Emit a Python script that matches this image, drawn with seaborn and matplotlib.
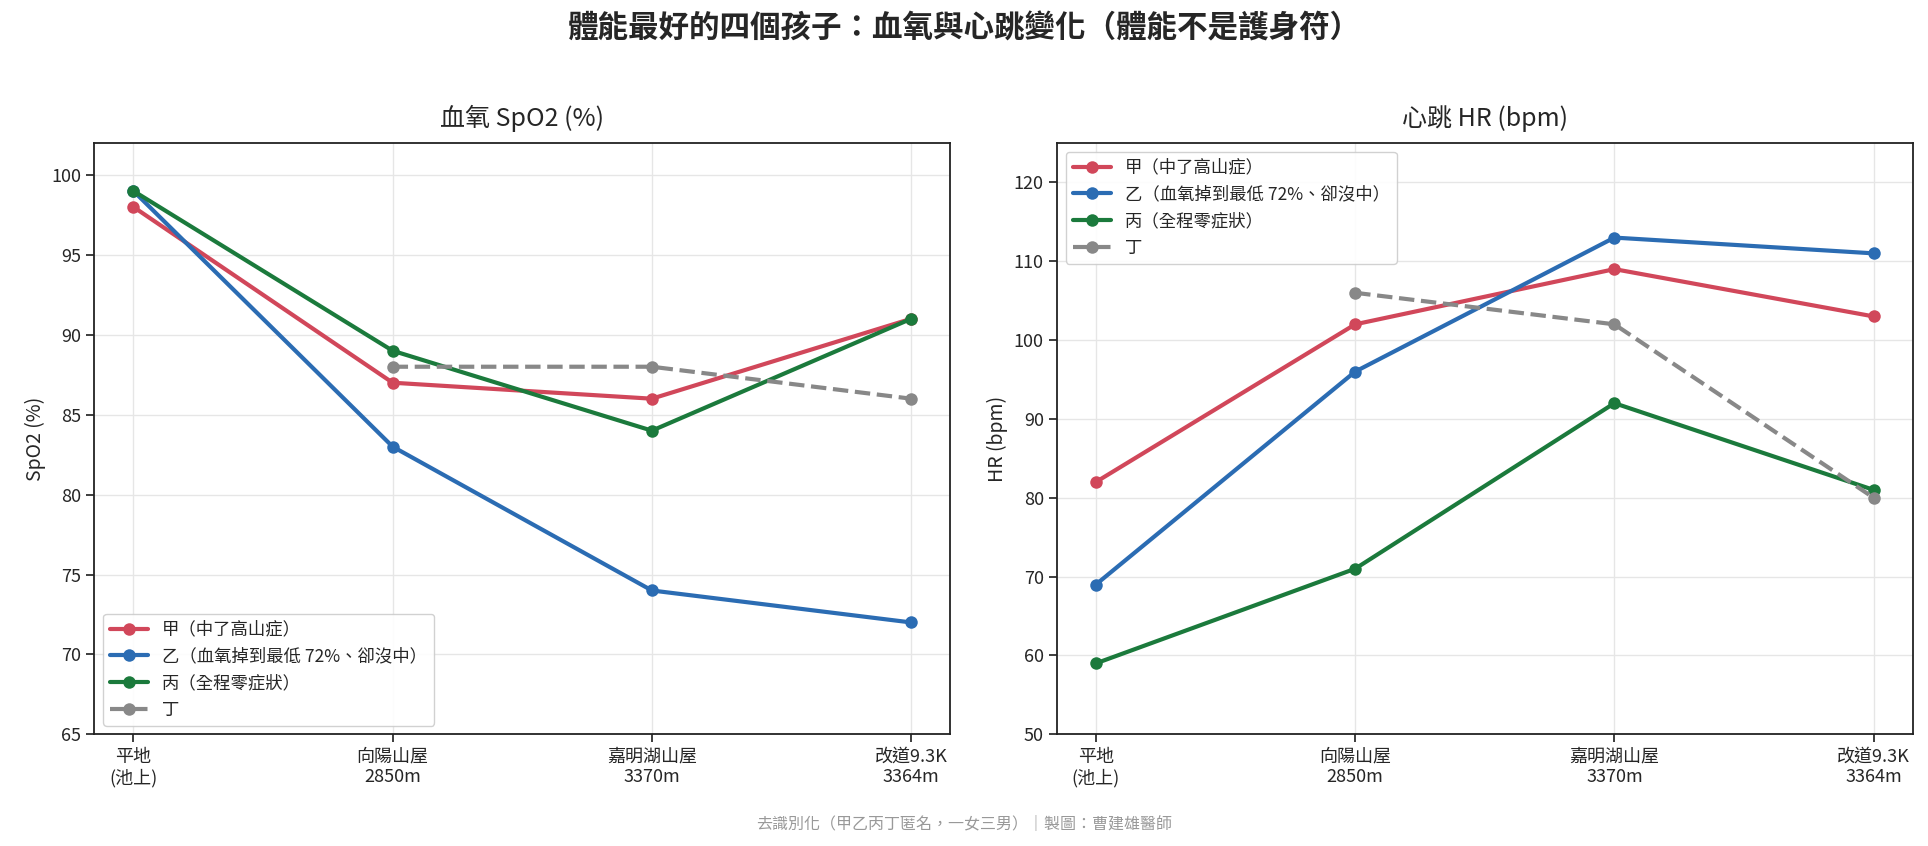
import numpy as np
import pandas as pd
import seaborn as sns
import matplotlib.pyplot as plt

stops = ['平地\n(池上)', '向陽山屋\n2850m', '嘉明湖山屋\n3370m', '改道9.3K\n3364m']
kids = ['甲（中了高山症）', '乙（血氧掉到最低 72%、卻沒中）', '丙（全程零症狀）', '丁']

spo2_jia = [98, 87, 86, 91]
spo2_yi = [99, 83, 74, 72]
spo2_bing = [99, 89, 84, 91]
spo2_ding = [np.nan, 88, 88, 86]

hr_jia = [82, 102, 109, 103]
hr_yi = [69, 96, 113, 111]
hr_bing = [59, 71, 92, 81]
hr_ding = [np.nan, 106, 102, 80]

colors = ['#d1475a', '#2b6cb3', '#1b7a3c', '#888888']

sns.set_theme(style="whitegrid")
plt.rcParams['font.family'] = ['Noto Sans CJK TC', 'DejaVu Sans']
plt.rcParams['axes.edgecolor'] = '#222222'
plt.rcParams['grid.color'] = '#e6e6e6'
plt.rcParams['xtick.bottom'] = True
plt.rcParams['ytick.left'] = True

def make_df(series):
    rows = []
    for kid, vals in zip(kids, series):
        for i, v in enumerate(vals):
            rows.append({'stop': i, 'kid': kid, 'val': v})
    return pd.DataFrame(rows)

spo2 = make_df([spo2_jia, spo2_yi, spo2_bing, spo2_ding])
hr = make_df([hr_jia, hr_yi, hr_bing, hr_ding])

fig, axes = plt.subplots(1, 2, figsize=(19.28, 8.46), dpi=100)
fig.subplots_adjust(left=0.049, right=0.992, top=0.831, bottom=0.132, wspace=0.125)

panels = [(axes[0], spo2, '血氧 SpO2 (%)', 'SpO2 (%)', (65, 102), 'lower left'),
          (axes[1], hr, '心跳 HR (bpm)', 'HR (bpm)', (50, 125), 'upper left')]

for ax, df, title, ylab, ylim, loc in panels:
    for kid, c in zip(kids, colors):
        d = df[df['kid'] == kid].dropna()
        ls = '--' if kid == '丁' else '-'
        sns.lineplot(data=d, x='stop', y='val', ax=ax, color=c, linewidth=3,
                     linestyle=ls, marker='o', markersize=9, markeredgewidth=0,
                     label=kid)
    ax.set_xlim(-0.15, 3.15)
    ax.set_ylim(*ylim)
    ax.set_xticks(range(len(stops)))
    ax.set_xticklabels(stops, fontsize=13)
    ax.tick_params(axis='y', labelsize=13)
    ax.set_xlabel('')
    ax.set_ylabel(ylab, fontsize=14)
    ax.set_title(title, fontsize=18, pad=12, fontweight='medium')
    for s in ax.spines.values():
        s.set_linewidth(1.3)
    ax.legend(loc=loc, fontsize=12.5, frameon=True, framealpha=0.9,
              edgecolor='#cccccc', handlelength=2.2)

fig.suptitle('體能最好的四個孩子：血氧與心跳變化（體能不是護身符）', fontsize=22,
             y=0.985, fontweight='bold')
fig.text(0.5, 0.021, '去識別化（甲乙丙丁匿名，一女三男）｜製圖：曹建雄醫師',
         ha='center', fontsize=11.5, color='#999999')

plt.savefig('out.png', dpi=100)
